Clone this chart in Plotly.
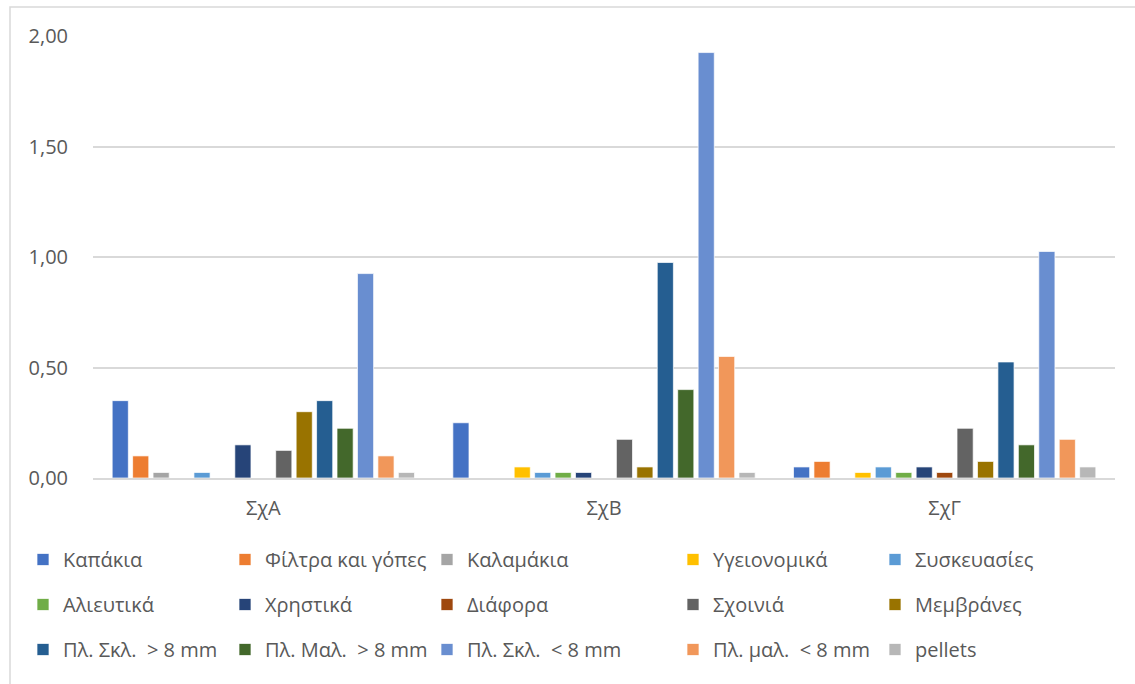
import plotly.graph_objects as go

# Sampling stations
stations = ["ΣχΑ", "ΣχΒ", "ΣχΓ"]

# Litter categories (legend order)
categories = [
    "Καπάκια", "Φίλτρα και γόπες", "Καλαμάκια", "Υγειονομικά", "Συσκευασίες",
    "Αλιευτικά", "Χρηστικά", "Διάφορα", "Σχοινιά", "Μεμβράνες",
    "Πλ. Σκλ.\u00a0 > 8 mm", "Πλ. Μαλ.\u00a0 > 8 mm", "Πλ. Σκλ.\u00a0 < 8 mm",
    "Πλ. μαλ.\u00a0 < 8 mm", "pellets",
]

# Values per category for ΣχΑ, ΣχΒ, ΣχΓ
kapakia = [0.35, 0.25, 0.05]
filtra_gopes = [0.10, 0.0, 0.075]
kalamakia = [0.025, 0.0, 0.0]
ygeionomika = [0.0, 0.05, 0.025]
syskevasies = [0.025, 0.025, 0.05]
alieutika = [0.0, 0.025, 0.025]
xrhstika = [0.15, 0.025, 0.05]
diafora = [0.0, 0.0, 0.025]
sxoinia = [0.125, 0.175, 0.225]
membranes = [0.30, 0.05, 0.075]
skl_gt8 = [0.35, 0.975, 0.525]
mal_gt8 = [0.225, 0.40, 0.15]
skl_lt8 = [0.925, 1.925, 1.025]
mal_lt8 = [0.10, 0.55, 0.175]
pellets = [0.025, 0.025, 0.05]

series = [
    kapakia, filtra_gopes, kalamakia, ygeionomika, syskevasies,
    alieutika, xrhstika, diafora, sxoinia, membranes,
    skl_gt8, mal_gt8, skl_lt8, mal_lt8, pellets,
]

colors = [
    "#4472C4", "#ED7D31", "#A5A5A5", "#FFC000", "#5B9BD5",
    "#70AD47", "#264478", "#9E480E", "#636363", "#997300",
    "#255E91", "#43682B", "#698ED0", "#F1975A", "#B7B7B7",
]

W, H = 1135, 684
FONT = "Open Sans"
TEXT = "#595959"
FS = 20

fig = go.Figure()
for i, (name, vals, col) in enumerate(zip(categories, series, colors)):
    column = i % 5
    fig.add_trace(go.Bar(
        x=stations, y=vals, name=name,
        marker=dict(color=col, line=dict(color="rgba(255,255,255,0.7)", width=1)),
        legend="legend" if column == 0 else f"legend{column + 1}",
        legendgroup=name,
        hoverinfo="x+y+name",
    ))

# Legend laid out as 5 columns of 3 rows
col_left = [23, 225, 427, 673, 875]
legend_common = dict(
    orientation="v", xref="container", yref="container",
    xanchor="left", yanchor="top", y=1 - 540 / H,
    font=dict(family=FONT, size=FS, color=TEXT),
    bgcolor="rgba(0,0,0,0)", tracegroupgap=16, itemclick=False,
)
legends = {}
for k, left in enumerate(col_left):
    key = "legend" if k == 0 else f"legend{k + 1}"
    legends[key] = dict(legend_common, x=left / W)

fig.update_layout(
    width=W, height=H,
    margin=dict(l=93, r=20, t=36, b=206, autoexpand=False),
    paper_bgcolor="white", plot_bgcolor="white",
    barmode="group", bargap=0.1, bargroupgap=0.21,
    separators=",.",
    font=dict(family=FONT, size=FS, color=TEXT),
    showlegend=True,
    **legends,
    xaxis=dict(
        showgrid=False, showline=True, linecolor="#d9d9d9", linewidth=1.5,
        ticks="outside", ticklen=11, tickcolor="rgba(0,0,0,0)",
        tickfont=dict(family=FONT, size=FS, color=TEXT),
    ),
    yaxis=dict(
        range=[0, 2], dtick=0.5, tickformat=".2f",
        showgrid=True, gridcolor="#d9d9d9", gridwidth=1.5,
        zeroline=False, showline=False,
        ticks="outside", ticklen=20, tickcolor="rgba(0,0,0,0)",
        tickfont=dict(family=FONT, size=FS, color=TEXT),
    ),
    shapes=[dict(
        type="rect", xref="paper", yref="paper",
        x0=(10 - 93) / 1022, x1=1.08, y0=-0.5, y1=(478 - 7) / 442,
        line=dict(color="#d9d9d9", width=1.5), fillcolor="rgba(0,0,0,0)",
        layer="below",
    )],
)

fig.write_html("out.html")
